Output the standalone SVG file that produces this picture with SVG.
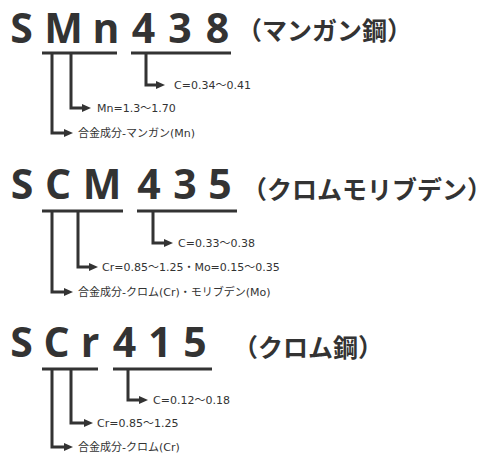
<svg xmlns="http://www.w3.org/2000/svg" width="500" height="465" viewBox="0 0 500 465">
<defs>
<style>
.big{font-family:"Open Sans","Noto Sans",sans-serif;font-weight:700;font-size:41px;fill:#333;text-anchor:middle}
.hd{font-family:"Noto Sans CJK JP",sans-serif;font-weight:700;font-size:25px;fill:#333}
.lb{font-family:"DejaVu Sans","Noto Sans CJK JP",sans-serif;font-size:11px;fill:#333}
.ul{stroke:#333;stroke-width:3;fill:none}
.ar{stroke:#333;stroke-width:3;fill:none;marker-end:url(#ah)}
</style>
<marker id="ah" markerUnits="userSpaceOnUse" markerWidth="9" markerHeight="8" viewBox="0 0 9 8" refX="1" refY="4" orient="auto">
<path d="M0,0 L9,4 L0,8 z" fill="#333"/>
</marker>
</defs>

<g id="smn438">
<text class="big" y="43"><tspan x="21.5">S</tspan><tspan x="63.5">M</tspan><tspan x="106">n</tspan><tspan x="143.5">4</tspan><tspan x="180">3</tspan><tspan x="217.5">8</tspan></text>
<text class="hd" x="237" y="40">（マンガン鋼）</text>
<text class="lb" x="174" y="89">C=0.34～0.41</text>
<text class="lb" x="97" y="112">Mn=1.3～1.70</text>
<text class="lb" x="78" y="137">合金成分-マンガン(Mn)</text>
</g>

<g id="scm435">
<text class="big" y="199"><tspan x="22">S</tspan><tspan x="58">C</tspan><tspan x="102">M</tspan><tspan x="149">4</tspan><tspan x="185">3</tspan><tspan x="220">5</tspan></text>
<text class="hd" x="242" y="199">（クロムモリブデン）</text>
<text class="lb" x="178" y="247">C=0.33～0.38</text>
<text class="lb" x="102" y="271">Cr=0.85～1.25・Mo=0.15～0.35</text>
<text class="lb" x="78" y="296">合金成分-クロム(Cr)・モリブデン(Mo)</text>
</g>

<g id="scr415">
<text class="big" y="357"><tspan x="21.5">S</tspan><tspan x="56.5">C</tspan><tspan x="90">r</tspan><tspan x="124.5">4</tspan><tspan x="160">1</tspan><tspan x="195">5</tspan></text>
<text class="hd" x="233" y="357">（クロム鋼）</text>
<text class="lb" x="153" y="404">C=0.12～0.18</text>
<text class="lb" x="97" y="427">Cr=0.85～1.25</text>
<text class="lb" x="78" y="451">合金成分-クロム(Cr)</text>
</g>

<g id="connectors">
<line class="ul" x1="42" y1="53" x2="117" y2="53"/>
<line class="ul" x1="131" y1="53" x2="231" y2="53"/>
<polyline class="ar" points="52,53 52,133 65,133"/>
<polyline class="ar" points="71,53 71,108 83,108"/>
<polyline class="ar" points="146,53 146,85 157,85"/>

<line class="ul" x1="42" y1="211" x2="123" y2="211"/>
<line class="ul" x1="137" y1="211" x2="237" y2="211"/>
<polyline class="ar" points="52,211 52,292 65,292"/>
<polyline class="ar" points="78,211 78,267 90,267"/>
<polyline class="ar" points="153,211 153,243 165,243"/>

<line class="ul" x1="42" y1="369" x2="98" y2="369"/>
<line class="ul" x1="113" y1="369" x2="212" y2="369"/>
<polyline class="ar" points="52,369 52,447 65,447"/>
<polyline class="ar" points="71,369 71,423 85,423"/>
<polyline class="ar" points="128,369 128,400 140,400"/>
</g>
</svg>
